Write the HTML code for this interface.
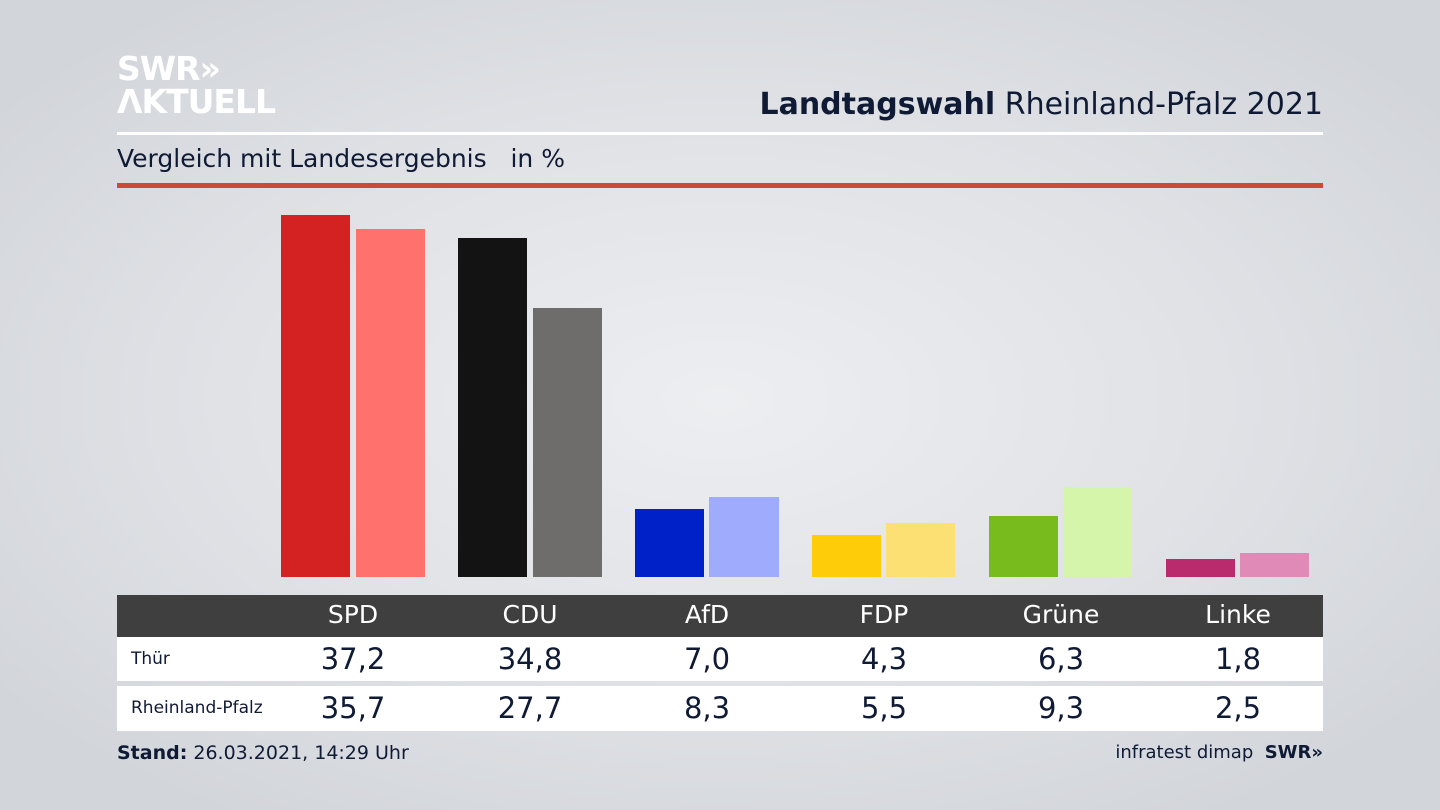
<!DOCTYPE html>
<html><head><meta charset="utf-8"><style>
*{margin:0;padding:0;box-sizing:border-box}
body{width:1440px;height:810px;overflow:hidden;position:relative;font-family:"DejaVu Sans","Liberation Sans",sans-serif;
background:radial-gradient(ellipse 900px 500px at 720px 400px,#eceef1 0%,#e0e2e6 55%,#d2d5da 100%);color:#0f1a35}
.a{position:absolute}
.bar{position:absolute}
.c{position:absolute;width:120px;text-align:center}
</style></head><body>
<div class="a" style="left:117px;top:52px;color:#fff;font:bold 33px/33px 'DejaVu Sans',sans-serif;letter-spacing:-1px">SWR»<br>ΛKTUELL</div>
<div class="a" style="right:117px;top:87px;font-size:30px;color:#0f1a35"><b>Landtagswahl</b> Rheinland-Pfalz 2021</div>
<div class="a" style="left:117px;top:132px;width:1206px;height:3px;background:#fff"></div>
<div class="a" style="left:117px;top:144px;font-size:25px;color:#0f1a35">Vergleich mit Landesergebnis &nbsp; in %</div>
<div class="a" style="left:117px;top:183px;width:1206px;height:5px;background:#cc4b37"></div>

<div class="bar" style="left:281px;top:215px;width:69px;height:362px;background:#d42121"></div>
<div class="bar" style="left:356px;top:229px;width:69px;height:348px;background:#ff716c"></div>
<div class="bar" style="left:458px;top:238px;width:69px;height:339px;background:#131313"></div>
<div class="bar" style="left:533px;top:308px;width:69px;height:269px;background:#6f6d6b"></div>
<div class="bar" style="left:635px;top:509px;width:69px;height:68px;background:#0020c8"></div>
<div class="bar" style="left:709px;top:497px;width:70px;height:80px;background:#9fabfd"></div>
<div class="bar" style="left:812px;top:535px;width:69px;height:42px;background:#fecc08"></div>
<div class="bar" style="left:886px;top:523px;width:69px;height:54px;background:#fde073"></div>
<div class="bar" style="left:989px;top:516px;width:69px;height:61px;background:#77bb1c"></div>
<div class="bar" style="left:1063px;top:487px;width:69px;height:90px;background:#d5f6aa"></div>
<div class="bar" style="left:1166px;top:559px;width:69px;height:18px;background:#b92b6c"></div>
<div class="bar" style="left:1240px;top:553px;width:69px;height:24px;background:#e08ab8"></div>

<div class="a" style="left:117px;top:595px;width:1206px;height:42px;background:#3f3f3f"></div>
<div class="a" style="left:117px;top:637px;width:1206px;height:44px;background:#fff"></div>
<div class="a" style="left:117px;top:686px;width:1206px;height:45px;background:#fff"></div>
<div style="color:#fff;font-size:25px">
<div class="c" style="left:293px;top:600px">SPD</div><div class="c" style="left:470px;top:600px">CDU</div><div class="c" style="left:647px;top:600px">AfD</div><div class="c" style="left:824px;top:600px">FDP</div><div class="c" style="left:1001px;top:600px">Grüne</div><div class="c" style="left:1178px;top:600px">Linke</div>
</div>
<div class="a" style="left:131px;top:649px;font-size:17px">Thür</div>
<div class="a" style="left:131px;top:698px;font-size:17px">Rheinland-Pfalz</div>
<div style="font-size:29px">
<div class="c" style="left:293px;top:642px">37,2</div><div class="c" style="left:470px;top:642px">34,8</div><div class="c" style="left:647px;top:642px">7,0</div><div class="c" style="left:824px;top:642px">4,3</div><div class="c" style="left:1001px;top:642px">6,3</div><div class="c" style="left:1178px;top:642px">1,8</div>
<div class="c" style="left:293px;top:691px">35,7</div><div class="c" style="left:470px;top:691px">27,7</div><div class="c" style="left:647px;top:691px">8,3</div><div class="c" style="left:824px;top:691px">5,5</div><div class="c" style="left:1001px;top:691px">9,3</div><div class="c" style="left:1178px;top:691px">2,5</div>
</div>
<div class="a" style="left:117px;top:742px;font-size:19px"><b>Stand:</b> 26.03.2021, 14:29 Uhr</div>
<div class="a" style="right:117px;top:742px;font-size:18px">infratest dimap &nbsp;<b>SWR»</b></div>
</body></html>
